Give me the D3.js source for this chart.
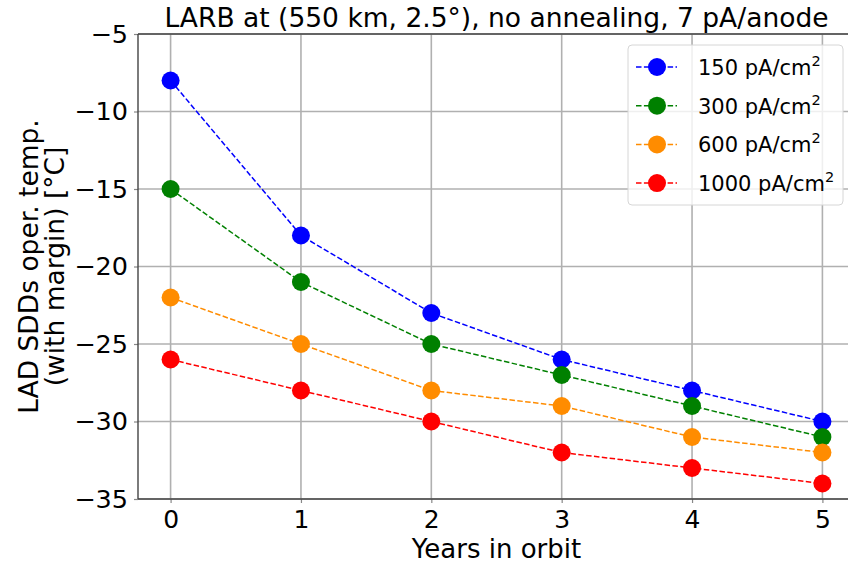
<!DOCTYPE html>
<html>
<head>
<meta charset="utf-8">
<script src="https://cdn.jsdelivr.net/npm/d3@7"></script>
<style>
  body { margin: 0; background: #fff; }
  svg { font-family: "DejaVu Sans", sans-serif; }
</style>
</head>
<body>
<div id="container"></div>
<script>
const years = [0, 1, 2, 3, 4, 5];
const seriesNames = ["150", "300", "600", "1000"];
const colors = ["#0000ff", "#008000", "#ff8c00", "#ff0000"];
const temp150 = [-8, -18, -23, -26, -28, -30];
const temp300 = [-15, -21, -25, -27, -29, -31];
const temp600 = [-22, -25, -28, -29, -31, -32];
const temp1000 = [-26, -28, -30, -32, -33, -34];
const yTicks = [-35, -30, -25, -20, -15, -10, -5];

const width = 848;
const height = 563;
const margins = { top: 34, bottom: 64, left: 138, right: -7 };

const series = [temp150, temp300, temp600, temp1000].map((values, i) => ({
  name: seriesNames[i],
  color: colors[i],
  points: values.map((v, j) => ({ x: years[j], y: v }))
}));

const xScale = d3.scaleLinear([-0.25, 5.25], [margins.left, width - margins.right]);
const yScale = d3.scaleLinear([-35, -5], [height - margins.bottom, margins.top]);

const svg = d3.select('#container')
  .append('svg')
  .attr('width', width)
  .attr('height', height)
  .attr('viewBox', [0, 0, width, height]);

// grid
svg.append('g')
  .selectAll('line')
  .data(years)
  .join('line')
  .attr('x1', d => xScale(d)).attr('x2', d => xScale(d))
  .attr('y1', yScale(-35)).attr('y2', yScale(-5))
  .attr('stroke', '#b0b0b0').attr('stroke-width', 1.6);

svg.append('g')
  .selectAll('line')
  .data(yTicks)
  .join('line')
  .attr('x1', xScale(-0.25)).attr('x2', xScale(5.25))
  .attr('y1', d => yScale(d)).attr('y2', d => yScale(d))
  .attr('stroke', '#b0b0b0').attr('stroke-width', 1.6);

// axes
const xAxis = d3.axisBottom(xScale).tickValues(years).tickSize(4).tickPadding(7)
  .tickFormat(d3.format('d'));
const yAxis = d3.axisLeft(yScale).tickValues(yTicks).tickSize(4).tickPadding(6)
  .tickFormat(d => d3.format('d')(d).replace('-', '\u2212'));

svg.append('g')
  .attr('transform', `translate(0, ${yScale(-35)})`)
  .call(xAxis)
  .call(g => g.select('.domain').remove())
  .call(g => g.selectAll('.tick line').attr('stroke', '#888').attr('stroke-width', 1.2))
  .call(g => g.selectAll('.tick text').attr('font-size', 25).attr('fill', '#000')
    .attr('font-family', '"DejaVu Sans", sans-serif'));

svg.append('g')
  .attr('transform', `translate(${margins.left}, 0)`)
  .call(yAxis)
  .call(g => g.select('.domain').remove())
  .call(g => g.selectAll('.tick line').attr('stroke', '#888').attr('stroke-width', 1.2))
  .call(g => g.selectAll('.tick text').attr('font-size', 25.5).attr('fill', '#000')
    .attr('font-family', '"DejaVu Sans", sans-serif'));

// spines
svg.append('line')
  .attr('x1', margins.left).attr('x2', margins.left)
  .attr('y1', yScale(-5)).attr('y2', yScale(-35))
  .attr('stroke', '#444').attr('stroke-width', 1.4);
svg.append('line')
  .attr('x1', margins.left).attr('x2', width)
  .attr('y1', yScale(-35)).attr('y2', yScale(-35))
  .attr('stroke', '#444').attr('stroke-width', 1.4);
svg.append('line')
  .attr('x1', margins.left).attr('x2', width)
  .attr('y1', yScale(-5)).attr('y2', yScale(-5))
  .attr('stroke', '#444').attr('stroke-width', 1.4);

// lines + markers
const line = d3.line().x(d => xScale(d.x)).y(d => yScale(d.y));

const sg = svg.append('g')
  .selectAll('g')
  .data(series)
  .join('g');

sg.append('path')
  .attr('d', d => line(d.points))
  .attr('fill', 'none')
  .attr('stroke', d => d.color)
  .attr('stroke-width', 1.5)
  .attr('stroke-dasharray', '5.5,2.4');

sg.selectAll('circle')
  .data(d => d.points.map(p => ({ ...p, color: d.color })))
  .join('circle')
  .attr('cx', d => xScale(d.x))
  .attr('cy', d => yScale(d.y))
  .attr('r', 9)
  .attr('fill', d => d.color);

// title
svg.append('text')
  .attr('x', (xScale(-0.25) + xScale(5.25)) / 2)
  .attr('y', 27)
  .attr('text-anchor', 'middle')
  .attr('font-size', 26.5)
  .text('LARB at (550 km, 2.5°), no annealing, 7 pA/anode');

// axis labels
svg.append('text')
  .attr('x', (xScale(-0.25) + xScale(5.25)) / 2)
  .attr('y', 558)
  .attr('text-anchor', 'middle')
  .attr('font-size', 26)
  .text('Years in orbit');

const yMid = (yScale(-5) + yScale(-35)) / 2;
svg.append('text')
  .attr('transform', `translate(38, ${yMid}) rotate(-90)`)
  .attr('text-anchor', 'middle')
  .attr('font-size', 26.5)
  .text('LAD SDDs oper. temp.');
svg.append('text')
  .attr('transform', `translate(64, ${yMid}) rotate(-90)`)
  .attr('text-anchor', 'middle')
  .attr('font-size', 26.5)
  .text('(with margin) [°C]');

// legend
const legend = svg.append('g').attr('transform', 'translate(628, 45)');
legend.append('rect')
  .attr('width', 215).attr('height', 160)
  .attr('rx', 4)
  .attr('fill', 'rgba(255,255,255,0.8)')
  .attr('stroke', '#d6d6d6');

const items = legend.selectAll('g')
  .data(series)
  .join('g')
  .attr('transform', (d, i) => `translate(0, ${22 + i * 38.7})`);

items.append('line')
  .attr('x1', 8).attr('x2', 49)
  .attr('stroke', d => d.color).attr('stroke-width', 1.5)
  .attr('stroke-dasharray', '5.5,2.4');
items.append('circle')
  .attr('cx', 29).attr('r', 9)
  .attr('fill', d => d.color);
const txt = items.append('text')
  .attr('x', 70).attr('y', 8)
  .attr('font-size', 21);
txt.append('tspan').text(d => `${d.name} pA/cm`);
txt.append('tspan').attr('dy', -9).attr('font-size', 14.5).text('2');
</script>
</body>
</html>
